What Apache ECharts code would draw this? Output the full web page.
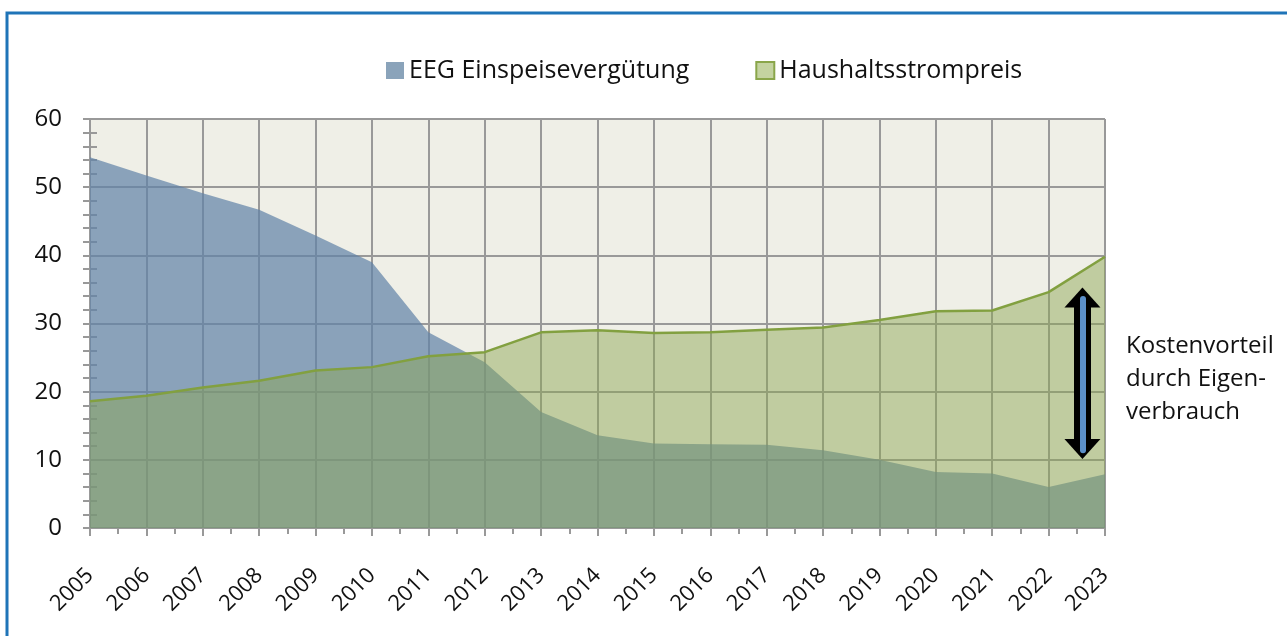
<!DOCTYPE html>
<html>
<head>
<meta charset="utf-8">
<script src="https://cdn.jsdelivr.net/npm/echarts@6/dist/echarts.min.js"></script>
<style>
  html, body { margin: 0; padding: 0; background: #ffffff; }
  #chart { width: 1287px; height: 636px; }
</style>
</head>
<body>
<div id="chart"></div>
<script>
// ---- data ----
const years = [2005, 2006, 2007, 2008, 2009, 2010, 2011, 2012, 2013, 2014, 2015, 2016, 2017, 2018, 2019, 2020, 2021, 2022, 2023];
const eegEinspeiseverguetung = [54.4, 51.7, 49.1, 46.7, 42.9, 39.0, 28.7, 24.3, 17.0, 13.6, 12.4, 12.3, 12.2, 11.4, 10.0, 8.2, 8.0, 6.0, 7.9];
const haushaltsstrompreis = [18.6, 19.4, 20.6, 21.6, 23.1, 23.6, 25.2, 25.8, 28.7, 29.0, 28.6, 28.7, 29.1, 29.4, 30.5, 31.8, 31.9, 34.6, 39.8];
const seriesNames = ['EEG Einspeisevergütung', 'Haushaltsstrompreis'];
const yTicks = [0, 10, 20, 30, 40, 50, 60];
// annotation arrow (data coords): x, top, bottom
const arrowX = 2022.6;
const arrowRange = [33.8, 11.6];
const arrowInner = [33.6, 11.4];
const annotationText = 'Kostenvorteil\ndurch Eigen-\nverbrauch';

const FONT = '"Open Sans", "DejaVu Sans", sans-serif';

const chart = echarts.init(document.getElementById('chart'), null, { renderer: 'canvas' });

const pairs = (vals) => years.map((y, i) => [y, vals[i]]);

const option = {
  backgroundColor: '#ffffff',
  animation: false,
  textStyle: { fontFamily: FONT },
  legend: {
    left: 381,
    top: 53,
    itemWidth: 18,
    itemHeight: 17,
    itemGap: 66,
    icon: 'rect',
    textStyle: { fontFamily: FONT, fontSize: 25, color: '#111' },
    data: [
      { name: seriesNames[0], itemStyle: { color: '#8aa3ba', borderWidth: 0 } },
      { name: seriesNames[1], itemStyle: { color: '#c4d3a0', borderColor: '#8aa64a', borderWidth: 2 } }
    ]
  },
  grid: {
    left: 90, right: 182, top: 119, bottom: 108,
    show: true, backgroundColor: '#efefe7', borderWidth: 0
  },
  xAxis: {
    type: 'value',
    min: years[0],
    max: years[years.length - 1],
    interval: 1,
    axisLine: { show: true, lineStyle: { color: '#999', width: 2 } },
    axisTick: { show: true, length: 8, lineStyle: { color: '#999', width: 2 } },
    minorTick: { show: true, splitNumber: 2, length: 6, lineStyle: { color: '#999', width: 2 } },
    splitLine: { show: true, lineStyle: { color: '#999', width: 2 } },
    axisLabel: {
      rotate: 45,
      margin: 44,
      fontSize: 22,
      color: '#111',
      fontFamily: FONT,
      formatter: (v) => String(v)
    }
  },
  yAxis: [
    {
      type: 'value',
      min: yTicks[0],
      max: yTicks[yTicks.length - 1],
      interval: 10,
      axisLine: { show: true, lineStyle: { color: '#999', width: 2 } },
      axisTick: { show: true, length: 7, lineStyle: { color: '#999', width: 2 } },
      minorTick: { show: true, splitNumber: 5, length: 7, lineStyle: { color: '#999', width: 2 } },
      splitLine: { show: true, lineStyle: { color: '#999', width: 2 } },
      axisLabel: { margin: 28, fontSize: 24, color: '#111', fontFamily: FONT }
    },
    {
      type: 'value',
      position: 'left',
      min: yTicks[0],
      max: yTicks[yTicks.length - 1],
      interval: 10,
      axisLine: { show: false },
      axisTick: { show: true, inside: true, length: 7, lineStyle: { color: '#999', width: 2 } },
      minorTick: { show: true, splitNumber: 5, length: 7, lineStyle: { color: '#999', width: 2 } },
      splitLine: { show: false },
      axisLabel: { show: false }
    }
  ],
  series: [
    {
      name: seriesNames[0],
      type: 'line',
      data: pairs(eegEinspeiseverguetung),
      symbol: 'none',
      color: '#8aa3ba',
      lineStyle: { width: 0 },
      areaStyle: { color: '#5f82a7', opacity: 0.7 },
      z: 2
    },
    {
      name: seriesNames[1],
      type: 'line',
      data: pairs(haushaltsstrompreis),
      symbol: 'none',
      color: '#c4d3a0',
      lineStyle: { width: 2.5, color: '#82a040' },
      areaStyle: { color: 'rgb(141,165,80)', opacity: 0.47 },
      z: 3,
      markLine: {
        silent: true,
        animation: false,
        label: { show: false },
        emphasis: { disabled: true },
        data: [
          [
            { coord: [arrowX, arrowRange[0]], symbol: 'triangle', symbolSize: [36, 20],
              lineStyle: { color: '#000', width: 17, type: 'solid' }, itemStyle: { color: '#000' } },
            { coord: [arrowX, arrowRange[1]], symbol: 'triangle', symbolSize: [36, 20] }
          ],
          [
            { coord: [arrowX, arrowInner[0]], symbol: 'none',
              lineStyle: { color: '#5b8fc9', width: 6, type: 'solid', cap: 'round' } },
            { coord: [arrowX, arrowInner[1]], symbol: 'none' }
          ]
        ]
      }
    }
  ],
  graphic: [
    {
      type: 'rect',
      shape: { x: 7, y: 13, width: 1400, height: 800 },
      style: { fill: 'none', stroke: '#1f74b8', lineWidth: 3 },
      silent: true, z: 100
    },
    {
      type: 'text',
      left: 1126,
      top: 330,
      style: {
        text: annotationText,
        font: '24px ' + FONT,
        lineHeight: 33,
        fill: '#111'
      },
      z: 100
    }
  ]
};

chart.setOption(option);
</script>
</body>
</html>
